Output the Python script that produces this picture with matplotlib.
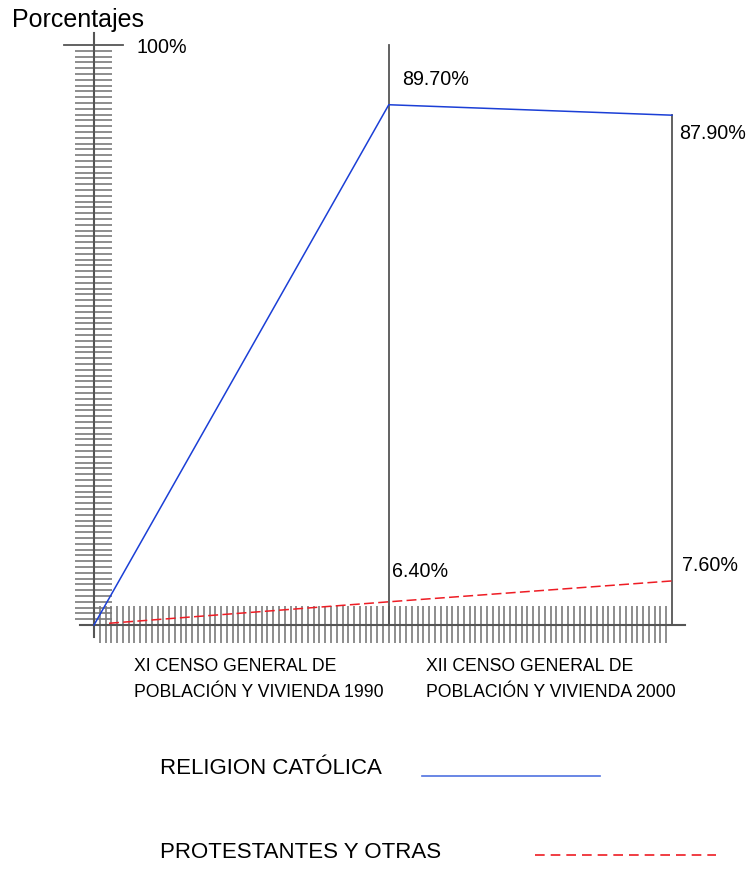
import matplotlib
matplotlib.use("Agg")
import matplotlib.pyplot as plt

# census points (x position on the drawn scale) and percentages
censos = ['XI CENSO GENERAL DE\nPOBLACIÓN Y VIVIENDA 1990',
          'XII CENSO GENERAL DE\nPOBLACIÓN Y VIVIENDA 2000']
x_pts = [0, 51, 100]
catolica = [0, 89.7, 87.9]
# the red line is drawn lower than its label in the original
x_prot = [2.6, 51, 100]
protestantes = [0.3, 4.0, 7.6]
etiquetas_cat = ['89.70%', '87.90%']
etiquetas_prot = ['6.40%', '7.60%']
leyenda = ['RELIGION CATÓLICA', 'PROTESTANTES Y OTRAS']

BLUE = '#1b3fd6'
RED = '#ee1c24'
AX = '#555555'
TICK = '#7a7a7a'

def main():
    plt.rcParams['font.family'] = ['Liberation Sans', 'DejaVu Sans']
    fig = plt.figure(figsize=(7.52, 8.82), dpi=100)
    ax = fig.add_axes([0, 0, 1, 1])
    # pixel mapping: x 94->0, 672->100 ; y 625->0, 45->100
    sx, sy = 5.78, 5.8
    ax.set_xlim(-94 / sx, 100 + (752 - 672) / sx)
    ax.set_ylim(-(882 - 625) / sy, 100 + 45 / sy)
    ax.axis('off')

    # y scale ticks (1..99 %)
    for v in range(1, 100):
        ax.plot([-3.3, 3.1], [v, v], color=TICK, lw=1.2, solid_capstyle='butt')
    # x scale ticks
    for v in range(1, 100):
        ax.plot([v, v], [-3.1, 3.3], color=TICK, lw=1.2, solid_capstyle='butt')

    # axes
    ax.plot([0, 0], [-2.1, 102.1], color=AX, lw=1.5)
    ax.plot([-2.4, 102.2], [0, 0], color=AX, lw=1.5)
    ax.plot([-5.2, 5.0], [100, 100], color=AX, lw=1.3)
    ax.plot([x_pts[1], x_pts[1]], [0, 100], color=AX, lw=1.3)
    ax.plot([x_pts[2], x_pts[2]], [0, catolica[2]], color=AX, lw=1.3)

    # series
    ax.plot(x_pts, catolica, color=BLUE, lw=1.1)
    ax.plot(x_prot, protestantes, color=RED, lw=1.1, dashes=(6.5, 2.8))

    # texts
    ax.text(-14.2, 104.3, 'Porcentajes', fontsize=18, ha='left', va='center')
    ax.text(7.4, 99.6, '100%', fontsize=14.2, ha='left', va='center')
    ax.text(53.3, 94.0, etiquetas_cat[0], fontsize=14.2, ha='left', va='center')
    ax.text(101.2, 84.8, etiquetas_cat[1], fontsize=14.2, ha='left', va='center')
    ax.text(51.6, 9.3, etiquetas_prot[0], fontsize=14.2, ha='left', va='center')
    ax.text(101.7, 10.2, etiquetas_prot[1], fontsize=14.2, ha='left', va='center')

    ax.text(6.9, -9.4, censos[0], fontsize=12.7, ha='left', va='center', linespacing=1.65)
    ax.text(57.4, -9.4, censos[1], fontsize=12.7, ha='left', va='center', linespacing=1.65)

    # legend drawn by hand
    ax.text(11.4, -24.8, leyenda[0], fontsize=16, ha='left', va='center')
    ax.plot([56.7, 87.5], [-26.0, -26.0], color='#4f72e0', lw=1.2)
    ax.text(11.4, -39.3, leyenda[1], fontsize=16, ha='left', va='center')
    ax.plot([76.3, 107.6], [-39.6, -39.6], color=RED, lw=1.2, dashes=(5.8, 3.6))

    fig.savefig('out.png', dpi=100)

if __name__ == "__main__":
    main()
